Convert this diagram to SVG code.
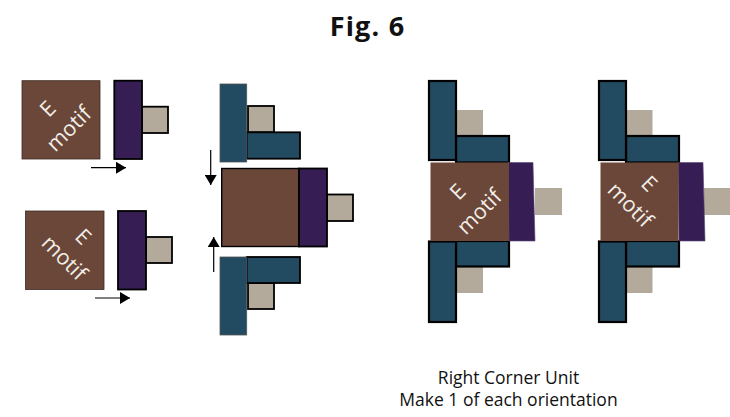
<svg xmlns="http://www.w3.org/2000/svg" width="730" height="417" viewBox="0 0 730 417">
<style>
text{font-family:"Open Sans","Noto Sans","Liberation Sans",sans-serif}
.br{fill:#6b4739;stroke:#3a2a24;stroke-width:.8}
.bn{fill:#6b4739}
.pu{fill:#361d54;stroke:#000;stroke-width:1.8}
.pn{fill:#361d54;stroke:#5a4a78;stroke-width:.6}
.ta{fill:#b4aa9b;stroke:#000;stroke-width:1.8}
.tn{fill:#b4aa9b}
.bl{fill:#224a60;stroke:#000;stroke-width:1.8}
.bk{fill:#224a60;stroke:#000;stroke-width:2.2}
.bs{fill:#224a60;stroke:#555;stroke-width:.8}
.m{fill:#f2eee8;font-size:21.5px;text-anchor:middle;dominant-baseline:central}
.c{fill:#111;font-size:17.5px;text-anchor:middle}
.a{stroke:#000;stroke-width:1.2;fill:none;marker-end:url(#h)}
</style>
<defs><marker id="h" markerUnits="userSpaceOnUse" markerWidth="10" markerHeight="12" refX="10" refY="6" orient="auto"><path d="M0 0L10 6L0 12Z" fill="#000"/></marker></defs>
<text x="367.500" y="36" text-anchor="middle" font-weight="700" fill="#111" style="font-size:27px;letter-spacing:1.2px">Fig. 6</text>
<g id="motif-a">
<rect class="br" x="22" y="80.7" width="78" height="78.3"/>
<text class="m" transform="translate(47 108) rotate(-45)">E</text>
<text class="m" transform="translate(68 128) rotate(-45)">motif</text>
</g>
<g id="tab-a"><rect class="ta" x="142" y="106.7" width="26" height="26.3"/><rect class="pu" x="114.3" y="80.7" width="27.7" height="78.3"/></g>
<g id="motif-b">
<rect class="br" x="25.5" y="211" width="78.5" height="78.5"/>
<text class="m" transform="translate(84 236) rotate(45)">E</text>
<text class="m" transform="translate(65 257) rotate(45)">motif</text>
</g>
<g id="tab-b"><rect class="ta" x="146" y="237" width="26" height="26"/><rect class="pu" x="118" y="211" width="28" height="78.5"/></g>
<g id="assembly-top">
<rect class="ta" x="248" y="106" width="26" height="26.3"/>
<rect class="bl" x="246.7" y="132.3" width="53.3" height="26.4"/>
<rect class="bs" x="220" y="84" width="26.7" height="78"/>
</g>
<g id="assembly-centre">
<rect class="ta" x="327" y="194.5" width="26" height="26.5"/>
<rect x="221.7" y="168.5" width="77.3" height="78" fill="#6b4739" stroke="#000" stroke-width="1.4"/>
<rect class="pu" x="299" y="168.5" width="28" height="78"/>
</g>
<g id="assembly-bottom">
<rect class="ta" x="248" y="283" width="26" height="26"/>
<rect class="bl" x="246.7" y="257" width="53.3" height="26"/>
<rect class="bs" x="220" y="257" width="26.7" height="78"/>
</g>
<g id="unit-left">
<rect class="tn" x="456" y="110" width="27" height="26"/>
<rect class="tn" x="456" y="267" width="27" height="26"/>
<rect class="tn" x="535" y="188" width="27" height="27"/>
<rect class="bk" x="456" y="136" width="53" height="26.5"/>
<rect class="bk" x="456" y="241" width="53" height="25.5"/>
<rect class="bk" x="429" y="81" width="27" height="79"/>
<rect class="bk" x="429" y="241.5" width="27" height="80.5"/>
<path class="pn" d="M508 162.5H533L535 241H509Z"/>
<rect class="bn" x="430.5" y="162.5" width="78.5" height="78.5"/>
<text class="m" transform="translate(457 191) rotate(-45)">E</text>
<text class="m" transform="translate(478.500 211) rotate(-45)">motif</text>
</g>
<g id="unit-right">
<rect class="tn" x="626" y="110" width="26.500" height="26"/>
<rect class="tn" x="626" y="267" width="26.500" height="26"/>
<rect class="tn" x="704" y="188" width="26" height="27"/>
<rect class="bk" x="626" y="136" width="53" height="26.5"/>
<rect class="bk" x="626" y="241" width="53" height="25.5"/>
<rect class="bk" x="599" y="81" width="27" height="79"/>
<rect class="bk" x="599" y="241.5" width="27" height="80.5"/>
<path class="pn" d="M678 162.5H703L705 241H679Z"/>
<rect class="bn" x="600.500" y="162.5" width="78" height="78.5"/>
<text class="m" transform="translate(650 183) rotate(45)">E</text>
<text class="m" transform="translate(631 204) rotate(45)">motif</text>
</g>
<g id="connectors">
<path class="a" d="M91 167.700H126"/>
<path class="a" d="M95 298H130"/>
<path class="a" d="M210.700 150V185"/>
<path class="a" d="M213.700 272V237"/>
</g>
<text class="c" x="508.500" y="384">Right Corner Unit</text>
<text class="c" x="508.500" y="406">Make 1 of each orientation</text>
</svg>
